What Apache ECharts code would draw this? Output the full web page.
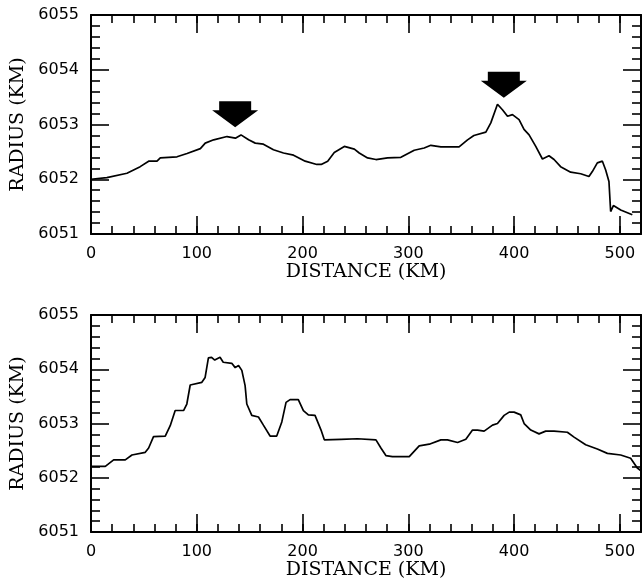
<!DOCTYPE html>
<html>
<head>
<meta charset="utf-8">
<script src="https://cdn.jsdelivr.net/npm/echarts@6/dist/echarts.min.js"></script>
<style>
html,body{margin:0;padding:0;background:#fff;}
#c{width:642px;height:581px;}
</style>
</head>
<body>
<div id="c"></div>
<script>
// ---- Data ----
const distTop = [0,15,34,46.5,54.5,62.4,65.5,81.3,90.8,103.4,108,116,128.6,136.5,141.8,149,155.3,163,172.5,182,191.5,202.5,213.5,217.6,223.8,230,239.5,249,253.6,261.5,269.4,280.4,293,305.6,315,321.3,330.8,348,356,362,373.3,378,384.3,389,393.8,398.5,404.7,409.4,414.2,420.5,426.8,433,437.8,444,453.5,463,470.8,474,478.7,483.5,486.6,489.7,491.3,493.9,500.8,511.8];
const radiusTop = [6052.00,6052.03,6052.11,6052.23,6052.33,6052.33,6052.39,6052.41,6052.47,6052.56,6052.66,6052.72,6052.78,6052.75,6052.81,6052.72,6052.66,6052.64,6052.54,6052.48,6052.44,6052.33,6052.27,6052.27,6052.33,6052.49,6052.60,6052.55,6052.48,6052.39,6052.36,6052.39,6052.40,6052.53,6052.57,6052.62,6052.59,6052.59,6052.72,6052.80,6052.86,6053.03,6053.37,6053.27,6053.15,6053.18,6053.09,6052.91,6052.81,6052.60,6052.37,6052.43,6052.36,6052.23,6052.13,6052.10,6052.05,6052.14,6052.30,6052.33,6052.17,6051.96,6051.41,6051.52,6051.44,6051.35];

const distBottom = [0,13.5,21.4,32.4,38.7,51.3,54.5,59.1,70.2,74.9,79.6,87.5,90.6,93.8,104.8,107.9,111,114,117,122,125,133.1,136.3,139.5,142.6,145.7,147.3,152,158.3,163,169.3,175.6,180.4,184.4,188.2,196,200.8,205.5,211.8,217.5,220.6,236.4,252,269.4,274.1,278.8,285,300.9,310.3,319.8,330.8,337,346.6,354.4,360.7,365.4,371.7,379.6,384.3,390.6,395.4,400,406.3,409.5,415.8,423.6,429.9,437.8,450.4,456.7,467.7,478.7,488.2,500.8,510.2,516.5,520];
const radiusBottom = [6052.21,6052.21,6052.33,6052.33,6052.42,6052.47,6052.55,6052.76,6052.77,6052.96,6053.24,6053.24,6053.36,6053.71,6053.76,6053.85,6054.21,6054.22,6054.17,6054.22,6054.13,6054.11,6054.03,6054.07,6053.98,6053.70,6053.36,6053.15,6053.12,6052.97,6052.77,6052.77,6053.03,6053.39,6053.44,6053.44,6053.24,6053.16,6053.15,6052.88,6052.70,6052.71,6052.72,6052.70,6052.55,6052.41,6052.39,6052.39,6052.59,6052.62,6052.70,6052.70,6052.65,6052.71,6052.88,6052.88,6052.86,6052.97,6053.00,6053.15,6053.21,6053.21,6053.16,6053.00,6052.88,6052.81,6052.86,6052.86,6052.84,6052.75,6052.61,6052.53,6052.45,6052.42,6052.36,6052.18,6052.13];

// arrow tips (top panel)
const arrowDist = [136.3, 390.3];
const arrowRadius = [6052.95, 6053.49];

const xMin = 0, xMax = 520, xMajor = 100, xMinor = 20;
const yMin = 6051, yMax = 6055, yMajor = 1;
const xTitle = 'DISTANCE (KM)';
const yTitle = 'RADIUS (KM)';

// ---- Build option ----
const labelFont = {fontFamily: 'DejaVu Sans', fontSize: 16, color: '#000'};
const nameFont = {fontFamily: 'DejaVu Serif', fontSize: 19, color: '#000'};
const axisStyle = {color: '#000', width: 2};
const tickStyle = {color: '#000', width: 1.6};
const curveStyle = {color: '#000', width: 1.7};

function zip(a, b) { return a.map((v, i) => [v, b[i]]); }

const grids = [
  {left: 91, top: 15, width: 550, height: 219},
  {left: 91, top: 315, width: 550, height: 220}
];

const xAxes = [], yAxes = [];
grids.forEach((g, gi) => {
  // bottom major (labels + name)
  xAxes.push({
    type: 'value', gridIndex: gi, position: 'bottom', min: xMin, max: xMax, interval: xMajor,
    axisLine: {show: true, onZero: false, lineStyle: axisStyle},
    axisTick: {show: true, inside: true, length: 18, lineStyle: tickStyle},
    axisLabel: Object.assign({show: true, margin: 12, showMaxLabel: false,
      formatter: v => (v % 100 === 0 ? String(v) : '')}, labelFont),
    splitLine: {show: false},
    name: xTitle, nameLocation: 'middle', nameGap: 28, nameTextStyle: nameFont
  });
  // bottom minor
  xAxes.push({
    type: 'value', gridIndex: gi, position: 'bottom', min: xMin, max: xMax, interval: xMinor,
    axisLine: {show: false, onZero: false},
    axisTick: {show: true, inside: true, length: 8, lineStyle: tickStyle},
    axisLabel: {show: false}, splitLine: {show: false}
  });
  // top major
  xAxes.push({
    type: 'value', gridIndex: gi, position: 'top', min: xMin, max: xMax, interval: xMajor,
    axisLine: {show: true, onZero: false, lineStyle: axisStyle},
    axisTick: {show: true, inside: true, length: 18, lineStyle: tickStyle},
    axisLabel: {show: false}, splitLine: {show: false}
  });
  // top minor
  xAxes.push({
    type: 'value', gridIndex: gi, position: 'top', min: xMin, max: xMax, interval: xMinor,
    axisLine: {show: false, onZero: false},
    axisTick: {show: true, inside: true, length: 8, lineStyle: tickStyle},
    axisLabel: {show: false}, splitLine: {show: false}
  });
  // left
  yAxes.push({
    type: 'value', gridIndex: gi, position: 'left', min: yMin, max: yMax, interval: yMajor,
    axisLine: {show: true, onZero: false, lineStyle: axisStyle},
    axisTick: {show: true, inside: true, length: 18, lineStyle: tickStyle},
    minorTick: {show: true, splitNumber: 5, length: 9, lineStyle: tickStyle},
    axisLabel: Object.assign({show: true, margin: 12, formatter: v => String(v)}, labelFont),
    splitLine: {show: false}, minorSplitLine: {show: false},
    name: yTitle, nameLocation: 'middle', nameGap: 59, nameRotate: 90, nameTextStyle: nameFont
  });
  // right
  yAxes.push({
    type: 'value', gridIndex: gi, position: 'right', min: yMin, max: yMax, interval: yMajor,
    axisLine: {show: true, onZero: false, lineStyle: axisStyle},
    axisTick: {show: true, inside: true, length: 18, lineStyle: tickStyle},
    minorTick: {show: true, splitNumber: 5, length: 9, lineStyle: tickStyle},
    axisLabel: {show: false},
    splitLine: {show: false}, minorSplitLine: {show: false}
  });
});

const arrowPath = 'path://M7,0 L39,0 L39,9 L46,9 L23,26 L0,9 L7,9 Z';

const option = {
  animation: false,
  backgroundColor: '#fff',
  grid: grids,
  xAxis: xAxes,
  yAxis: yAxes,
  series: [
    {
      type: 'line', xAxisIndex: 0, yAxisIndex: 0, data: zip(distTop, radiusTop),
      showSymbol: false, lineStyle: curveStyle, itemStyle: {color: '#000'}
    },
    {
      type: 'line', xAxisIndex: 4, yAxisIndex: 2, data: zip(distBottom, radiusBottom),
      showSymbol: false, lineStyle: curveStyle, itemStyle: {color: '#000'}
    },
    {
      type: 'scatter', xAxisIndex: 0, yAxisIndex: 0, data: zip(arrowDist, arrowRadius),
      symbol: arrowPath, symbolSize: [46, 26], symbolOffset: [0, -13],
      itemStyle: {color: '#000', opacity: 1}, silent: true
    }
  ]
};

const chart = echarts.init(document.getElementById('c'), null, {renderer: 'canvas'});
chart.setOption(option);
</script>
</body>
</html>
